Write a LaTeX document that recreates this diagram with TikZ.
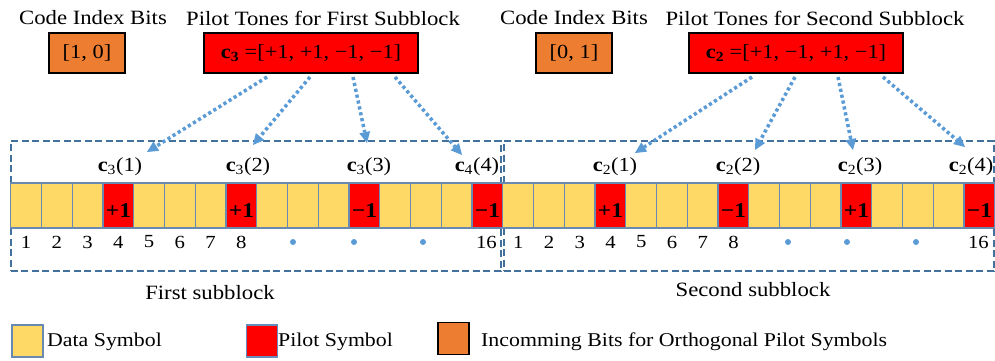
\documentclass[tikz,border=0pt]{standalone}
\usepackage{fontspec}
\setmainfont[FakeStretch=1.12]{Liberation Serif}
\usetikzlibrary{arrows.meta}
\definecolor{datay}{HTML}{FFD966}
\definecolor{pilr}{HTML}{FF0000}
\definecolor{bitso}{HTML}{ED7D31}
\definecolor{cellb}{HTML}{6A89B0}
\definecolor{dashb}{HTML}{41719C}
\definecolor{arrb}{HTML}{5B9BD5}
\tikzset{
  cellbox/.style={draw=cellb, line width=1.2pt, minimum width=30.75pt, minimum height=45pt, inner sep=0pt, outer sep=0pt},
  datacell/.style={cellbox, fill=datay},
  pilotcell/.style={cellbox, fill=pilr},
  topbox/.style={draw=black, line width=1.4pt, minimum height=40pt, inner sep=0pt, font=\fontsize{20}{22}\selectfont},
  codebox/.style={topbox, fill=bitso, minimum width=76pt},
  tonebox/.style={topbox, fill=pilr, minimum width=214pt},
  title/.style={font=\fontsize{20.3}{24}\selectfont, inner sep=0pt},
  clab/.style={font=\fontsize{20}{24}\selectfont, inner sep=0pt},
  plab/.style={font=\fontsize{21}{24}\selectfont\bfseries, inner sep=0pt},
  idx/.style={font=\fontsize{18.5}{20}\selectfont, inner sep=0pt},
  sbox/.style={draw=dashb, line width=2pt, dash pattern=on 7pt off 3.5pt, minimum height=130pt, minimum width=490pt, inner sep=0pt},
  ptr/.style={draw=arrb, line width=3.5pt, dash pattern=on 3.2pt off 2.8pt, -{Triangle[length=11pt,width=11pt,fill=arrb,line width=0pt]}},
  dotm/.style={circle, fill=arrb, inner sep=0pt, minimum size=6pt},
  legbox/.style={line width=1.4pt, minimum width=31pt, minimum height=32pt, inner sep=0pt},
  legtext/.style={font=\fontsize{19.5}{22}\selectfont, inner sep=0pt, anchor=west},
}
\newcommand{\cvec}[2]{\textbf{c}\textsubscript{#1}(#2)}
\begin{document}
\begin{tikzpicture}[x=1pt,y=-1pt]
\useasboundingbox (0,0) rectangle (995,360);

% top titles and boxes
\node[title] (t1) at (93,18) {Code Index Bits};
\node[title] (t2) at (323,18) {Pilot Tones for First Subblock};
\node[title] (t3) at (574,18) {Code Index Bits};
\node[title] (t4) at (815,18) {Pilot Tones for Second Subblock};
\node[codebox] (o1) at (87,53) {[1, 0]};
\node[tonebox] (r1) at (311,53) {\textbf{c\textsubscript{3}} =[+1, +1, −1, −1]};
\node[codebox] (o2) at (574,53) {[0, 1]};
\node[tonebox] (r2) at (796,53) {\textbf{c\textsubscript{2}} =[+1, −1, +1, −1]};

% subblock dashed boxes
\node[sbox] (sb1) at (255.5,206) {};
\node[sbox] (sb2) at (748.5,206) {};

% cells
\foreach \b/\xs in {1/10.8, 2/502.8} {
  \foreach \i in {1,...,16} {
    \pgfmathsetmacro{\cx}{\xs+(\i-0.5)*30.75}
    \pgfmathtruncatemacro{\m}{mod(\i,4)}
    \ifnum\m=0
      \node[pilotcell] (c\b-\i) at (\cx,205.5) {};
    \else
      \node[datacell] (c\b-\i) at (\cx,205.5) {};
    \fi
  }
}
% pilot values
\node[plab] at ([yshift=-5pt]c1-4.center) {+1};
\node[plab] at ([yshift=-5pt]c1-8.center) {+1};
\node[plab] at ([yshift=-5pt]c1-12.center) {−1};
\node[plab] at ([yshift=-5pt]c1-16.center) {−1};
\node[plab] at ([yshift=-5pt]c2-4.center) {+1};
\node[plab] at ([yshift=-5pt]c2-8.center) {−1};
\node[plab] at ([yshift=-5pt]c2-12.center) {+1};
\node[plab] at ([yshift=-5pt]c2-16.center) {−1};

% pilot labels above cells
\node[clab] (l11) at (120,167) {\cvec{3}{1}};
\node[clab] (l12) at (248,167) {\cvec{3}{2}};
\node[clab] (l13) at (369,167) {\cvec{3}{3}};
\node[clab] (l14) at (477,167) {\cvec{4}{4}};
\node[clab] (l21) at (615,167) {\cvec{2}{1}};
\node[clab] (l22) at (738,167) {\cvec{2}{2}};
\node[clab] (l23) at (860,167) {\cvec{2}{3}};
\node[clab] (l24) at (971,167) {\cvec{2}{4}};

% indices
\foreach \b in {1,2} {
  \foreach \i in {1,...,8} {
    \node[idx] at ([yshift=-36.5pt]c\b-\i.center) {\i};
  }
  \node[idx] at ([yshift=-36.5pt,xshift=-1pt]c\b-16.center) {16};
}
\node[dotm] (d11) at (293,242) {};
\node[dotm] (d12) at (354,242) {};
\node[dotm] (d13) at (423,242) {};
\node[dotm] (d21) at (788,242) {};
\node[dotm] (d22) at (847,242) {};
\node[dotm] (d23) at (916,242) {};

% subblock names
\node[title] (n1) at (210,293) {First subblock};
\node[title] (n2) at (753,290) {Second subblock};

% arrows
\coordinate (s11) at (267,77); \coordinate (e11) at (147,152);
\coordinate (s12) at (310,77); \coordinate (e12) at (253,145);
\coordinate (s13) at (353,77); \coordinate (e13) at (367,143);
\coordinate (s14) at (395,77); \coordinate (e14) at (462,155);
\coordinate (s21) at (752,77); \coordinate (e21) at (635,153);
\coordinate (s22) at (795,77); \coordinate (e22) at (755,150);
\coordinate (s23) at (838,77); \coordinate (e23) at (853,150);
\coordinate (s24) at (883,77); \coordinate (e24) at (965,147);
\foreach \b in {1,2} {
  \foreach \k in {1,...,4} {
    \draw[ptr] (s\b\k) -- (e\b\k);
  }
}

% legend
\node[legbox, draw=cellb, fill=datay] (lg1) at (27.5,341) {};
\node[legtext] (lt1) at (47,342) {Data Symbol};
\node[legbox, draw=cellb!70!arrb, fill=pilr] (lg2) at (262,341) {};
\node[legtext] (lt2) at (278,342) {Pilot Symbol};
\node[legbox, draw=black, fill=bitso] (lg3) at (453.5,338.5) {};
\node[legtext] (lt3) at (481,342) {Incomming Bits for Orthogonal Pilot Symbols};
\end{tikzpicture}
\end{document}
